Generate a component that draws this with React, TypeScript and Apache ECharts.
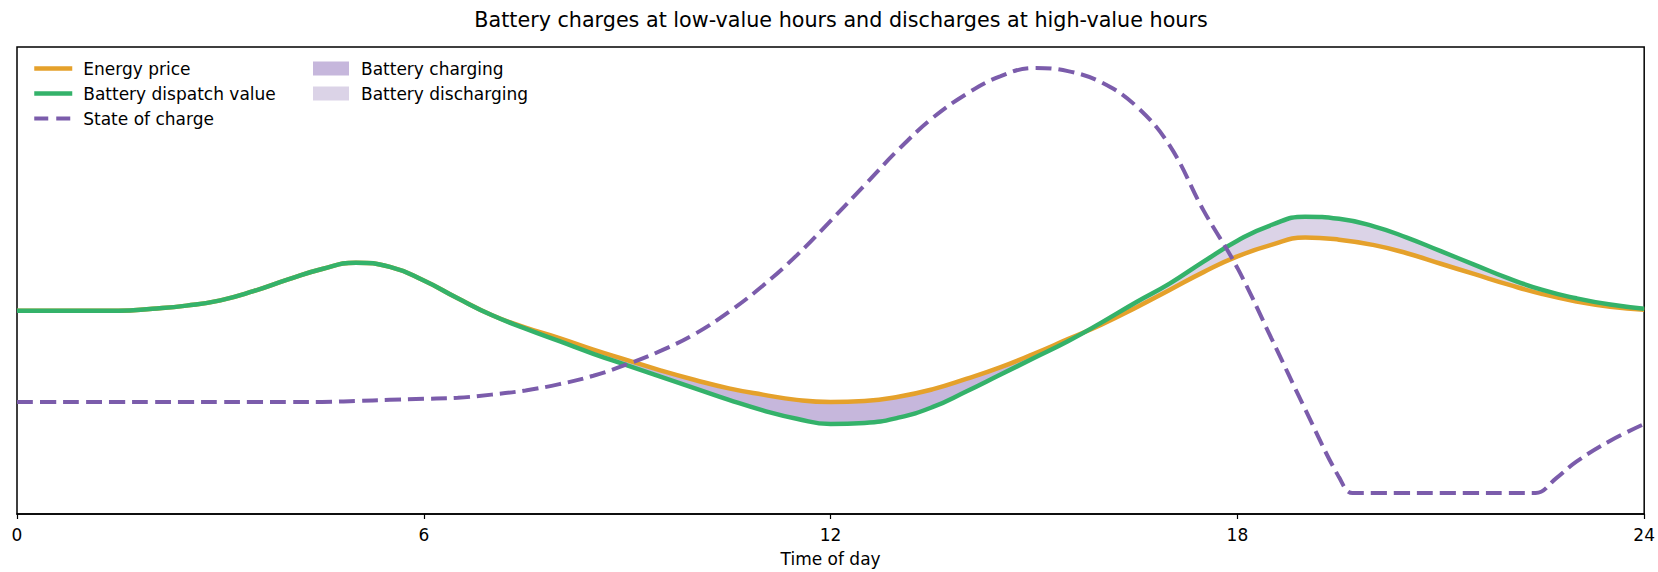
import React, { useEffect, useRef } from "react";
import * as echarts from "echarts";

// Half-hourly samples, 0..24
const hours = Array.from({ length: 49 }, (_, i) => i / 2);
// Energy price (relative units)
const price = [194, 194, 194, 194, 196, 199, 204, 213, 224, 234, 240, 236, 223, 206, 190, 178, 168, 157, 147, 137, 128, 120, 114, 109, 107, 108, 112, 119, 129, 140, 153, 167, 181, 197, 214, 231, 246, 257, 264, 262, 257, 249, 239, 229, 219, 210, 203, 198, 195];
// Battery dispatch value (relative units)
const dispatch = [194, 194, 194, 194, 196, 199, 204, 213, 224, 234, 240, 236, 223, 206, 190, 177, 165, 153, 142, 131, 120, 109, 99, 91, 86, 87, 92, 102, 117, 133, 149, 165, 183, 202, 220, 241, 261, 276, 284, 282, 275, 264, 251, 238, 225, 214, 206, 200, 196];

// State of charge samples (relative units, own hours)
const socHours = [0, 0.5, 1, 1.5, 2, 2.5, 3, 3.5, 4, 4.5, 5, 5.5, 6, 6.5, 7, 7.5, 8, 8.5, 9, 9.5, 10, 10.5, 11, 11.5, 12, 12.5, 13, 13.5, 14, 14.5, 15, 15.5, 16, 16.5, 17, 17.5, 18, 18.5, 19, 19.5, 19.7, 20, 20.5, 21, 21.5, 22, 22.4, 22.7, 23, 23.5, 24];
const soc = [107, 107, 107, 107, 107, 107, 107, 107, 107, 107, 108, 109, 110, 111, 114, 118, 124, 132, 143, 156, 172, 193, 218, 247, 280, 314, 348, 378, 401, 418, 426, 423, 412, 390, 352, 290, 235, 168, 100, 35, 20, 20, 20, 20, 20, 20, 20, 34, 50, 70, 86];

const xTicks = [0, 6, 12, 18, 24];

const ORANGE = "#E5A12B";
const GREEN = "#34B26A";
const PURPLE = "#7B5CAB";
const CHARGE_FILL = "#C6B7DC";
const DISCHARGE_FILL = "#DBD3E7";
const FONT = "DejaVu Sans";

export default function App() {
  const ref = useRef<HTMLDivElement>(null);
  useEffect(() => {
    if (!ref.current) return;
    document.documentElement.style.overflow = "hidden";
    document.body.style.margin = "0";
    document.body.style.overflow = "hidden";
    const chart = echarts.init(ref.current, null, { renderer: "svg" });
    // value first, hour second, so that stacking acts on the value dimension
    const base = hours.map((h, i) => [Math.min(price[i], dispatch[i]), h]);
    const charging = hours.map((h, i) => [Math.max(price[i] - dispatch[i], 0), h]);
    const discharging = hours.map((h, i) => [Math.max(dispatch[i] - price[i], 0), h]);
    const bandCommon = {
      type: "line",
      stack: "band",
      stackStrategy: "all",
      encode: { x: 1, y: 0 },
      smooth: 0.5,
      symbol: "none",
      silent: true,
      lineStyle: { width: 0, opacity: 0 },
      z: 1,
    };
    const legendText = { fontFamily: FONT, fontSize: 17, color: "#000" };
    chart.setOption({
      animation: false,
      title: {
        text: "Battery charges at low-value hours and discharges at high-value hours",
        left: 836,
        textAlign: "center",
        top: 4,
        textStyle: { fontFamily: FONT, fontSize: 20.7, fontWeight: "normal", color: "#000" },
      },
      legend: [
        {
          orient: "vertical",
          left: 27,
          top: 55,
          itemWidth: 38,
          itemHeight: 14,
          itemGap: 8,
          itemStyle: { color: "transparent", borderWidth: 0, opacity: 0 },
          lineStyle: { width: 4.5 },
          textStyle: { ...legendText, padding: [0, 0, 0, 6] },
          data: [
            { name: "Energy price", lineStyle: { color: ORANGE, width: 4.5, type: "solid" } },
            { name: "Battery dispatch value", lineStyle: { color: GREEN, width: 4.5, type: "solid" } },
            { name: "State of charge", lineStyle: { color: PURPLE, width: 4, type: [14, 8] } },
          ],
        },
        {
          orient: "vertical",
          left: 308,
          top: 55,
          itemWidth: 36,
          itemHeight: 14,
          itemGap: 8,
          textStyle: { ...legendText, padding: [0, 0, 0, 7] },
          data: [
            { name: "Battery charging", icon: "rect", itemStyle: { color: CHARGE_FILL, opacity: 1 } },
            { name: "Battery discharging", icon: "rect", itemStyle: { color: DISCHARGE_FILL, opacity: 1 } },
          ],
        },
      ],
      grid: {
        left: 17,
        right: 2,
        top: 47,
        bottom: 54,
        show: true,
        borderColor: "#000",
        borderWidth: 1.5,
        backgroundColor: "transparent",
      },
      xAxis: {
        type: "value",
        min: 0,
        max: 24,
        interval: 6,
        name: "Time of day",
        nameLocation: "middle",
        nameGap: 36,
        nameTextStyle: { fontFamily: FONT, fontSize: 17, color: "#000" },
        axisLine: { show: true, lineStyle: { color: "#000", width: 1.5 } },
        axisTick: { show: true, length: 5, lineStyle: { color: "#000", width: 1.2 } },
        axisLabel: {
          margin: 12,
          fontFamily: FONT,
          fontSize: 17,
          color: "#000",
          customValues: xTicks,
        },
        splitLine: { show: false },
      },
      yAxis: {
        type: "value",
        min: 0,
        max: 446,
        show: false,
        splitLine: { show: false },
      },
      series: [
        { ...bandCommon, name: "base", data: base },
        {
          ...bandCommon,
          name: "Battery charging",
          data: charging,
          itemStyle: { color: CHARGE_FILL },
          areaStyle: { color: CHARGE_FILL, opacity: 1 },
        },
        {
          ...bandCommon,
          name: "Battery discharging",
          data: discharging,
          itemStyle: { color: DISCHARGE_FILL },
          areaStyle: { color: DISCHARGE_FILL, opacity: 1 },
        },
        {
          name: "Energy price",
          type: "line",
          data: hours.map((h, i) => [h, price[i]]),
          smooth: 0.5,
          symbol: "none",
          itemStyle: { color: ORANGE },
          lineStyle: { color: ORANGE, width: 4.5 },
          z: 3,
        },
        {
          name: "Battery dispatch value",
          type: "line",
          data: hours.map((h, i) => [h, dispatch[i]]),
          smooth: 0.5,
          symbol: "none",
          itemStyle: { color: GREEN },
          lineStyle: { color: GREEN, width: 4.5 },
          z: 4,
        },
        {
          name: "State of charge",
          type: "line",
          data: socHours.map((h, i) => [h, soc[i]]),
          smooth: 0.4,
          symbol: "none",
          itemStyle: { color: PURPLE },
          lineStyle: { color: PURPLE, width: 4, type: [16, 7] },
          z: 5,
        },
      ],
    });
    return () => chart.dispose();
  }, []);
  return (
    <div
      ref={ref}
      style={{ position: "fixed", left: 0, top: 0, width: 1658, height: 572, background: "#fff" }}
    />
  );
}
